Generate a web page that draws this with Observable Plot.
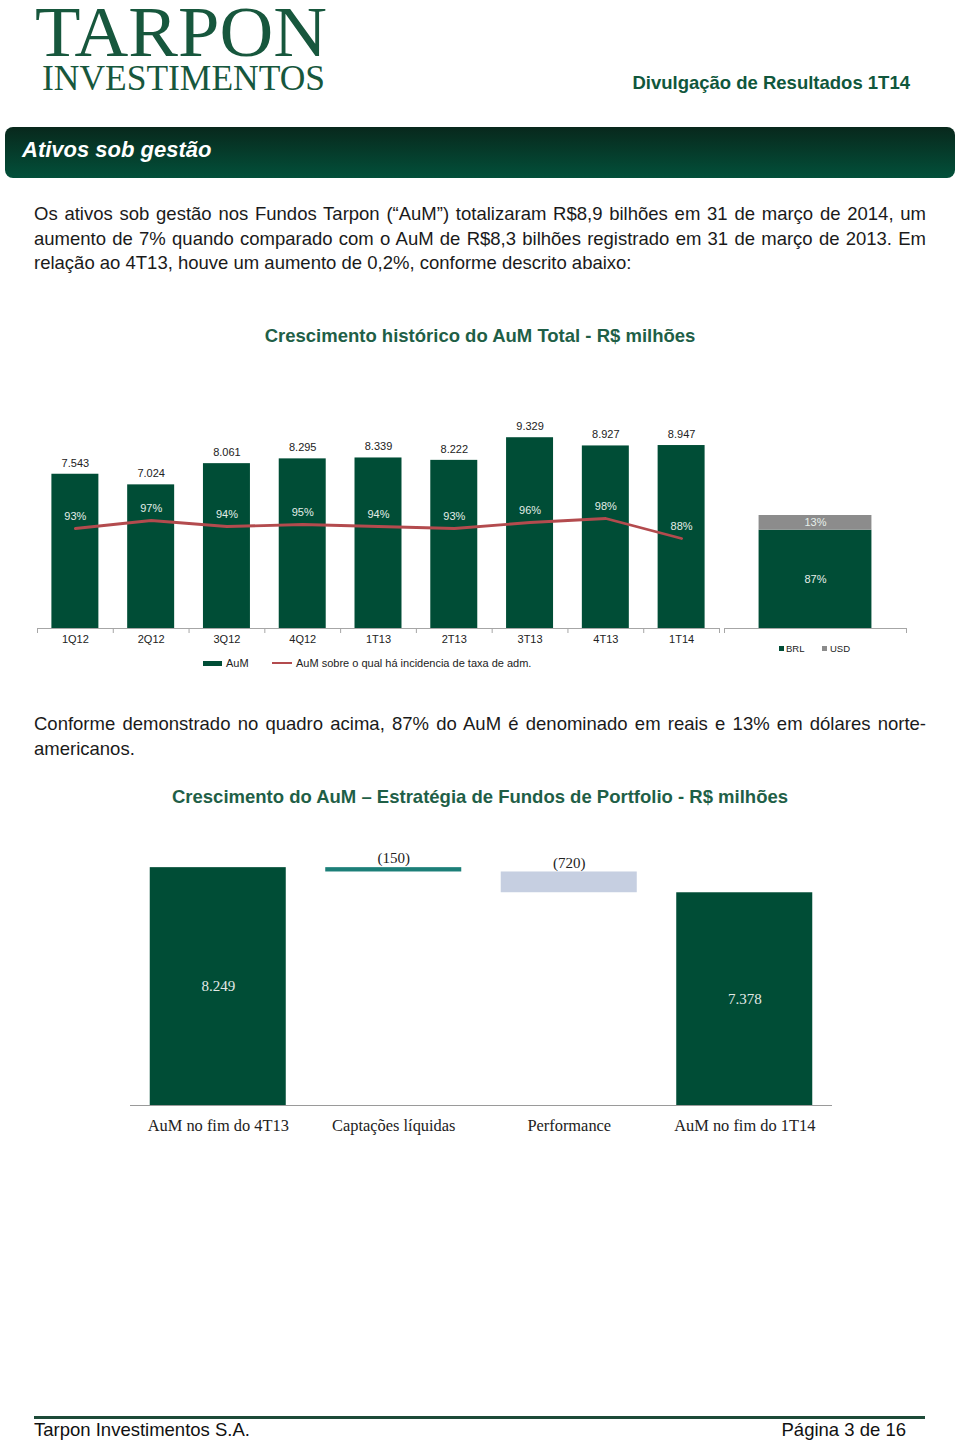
<!DOCTYPE html>
<html>
<head>
<meta charset="utf-8">
<script src="https://cdn.jsdelivr.net/npm/d3@7"></script>
<script src="https://cdn.jsdelivr.net/npm/@observablehq/plot@0.6"></script>
<style>
  html, body { margin: 0; padding: 0; background: #fff; }
  body { width: 960px; height: 1443px; position: relative; overflow: hidden;
         font-family: "Liberation Sans", Arial, sans-serif; color: #1a1a1a; }
  .abs { position: absolute; }
  .para { font-size: 18.5px; line-height: 24.5px; width: 892px; left: 34px; }
  .para div { text-align: justify; text-align-last: justify; white-space: nowrap; }
  .para div.last { text-align-last: left; }
  .ctitle { width: 960px; left: 0; text-align: center; font-weight: bold; font-size: 18.5px; color: #1f5f47; line-height: 22px; }
  .legend { font-size: 11px; color: #222; line-height: 14px; white-space: nowrap; }
  svg.plot { overflow: visible; }
</style>
</head>
<body>

<!-- Logo -->
<svg class="abs" style="left:0;top:0" width="340" height="100">
  <text x="35" y="56" font-family="Liberation Serif, serif" font-size="72" fill="#17573d" textLength="292" lengthAdjust="spacingAndGlyphs">TARPON</text>
  <text x="42" y="90" font-family="Liberation Serif, serif" font-size="35" fill="#17573d" textLength="283" lengthAdjust="spacingAndGlyphs">INVESTIMENTOS</text>
</svg>

<div class="abs" style="right:50px;top:72px;font-size:18.5px;font-weight:bold;color:#10573c;line-height:22px;">Divulgação de Resultados 1T14</div>

<!-- Banner -->
<div class="abs" style="left:5px;top:127px;width:950px;height:51px;border-radius:8px;background:linear-gradient(#08281c,#02503a);"></div>
<div class="abs" style="left:22px;top:137px;font-size:22px;font-weight:bold;font-style:italic;color:#fff;line-height:26px;">Ativos sob gestão</div>

<!-- Paragraph 1 -->
<div class="abs para" style="top:202px;">
  <div>Os ativos sob gestão nos Fundos Tarpon (“AuM”) totalizaram R$8,9 bilhões em 31 de março de 2014, um</div>
  <div>aumento de 7% quando comparado com o AuM de R$8,3 bilhões registrado em 31 de março de 2013. Em</div>
  <div class="last">relação ao 4T13, houve um aumento de 0,2%, conforme descrito abaixo:</div>
</div>

<div class="abs ctitle" style="top:325px;">Crescimento histórico do AuM Total - R$ milhões</div>

<div id="c1" class="abs" style="left:0;top:400px;"></div>
<div id="c1line" class="abs" style="left:0;top:400px;"></div>
<div id="c1b" class="abs" style="left:720px;top:400px;"></div>

<!-- Legend chart 1 -->
<div class="abs" style="left:203px;top:661px;width:19px;height:5px;background:#004d36;"></div>
<div class="abs legend" style="left:226px;top:656px;">AuM</div>
<div class="abs" style="left:272px;top:662px;width:20px;height:2px;background:#b34b4e;"></div>
<div class="abs legend" style="left:296px;top:656px;">AuM sobre o qual há incidencia de taxa de adm.</div>

<!-- Legend chart 1b -->
<div class="abs" style="left:779px;top:646px;width:5px;height:5px;background:#004d36;"></div>
<div class="abs legend" style="left:786px;top:642px;font-size:9.5px;">BRL</div>
<div class="abs" style="left:822px;top:646px;width:5px;height:5px;background:#8c8c8c;"></div>
<div class="abs legend" style="left:830px;top:642px;font-size:9.5px;">USD</div>

<!-- Paragraph 2 -->
<div class="abs para" style="top:712px;">
  <div>Conforme demonstrado no quadro acima, 87% do AuM é denominado em reais e 13% em dólares norte-</div>
  <div class="last">americanos.</div>
</div>

<div class="abs ctitle" style="top:786px;">Crescimento do AuM – Estratégia de Fundos de Portfolio - R$ milhões</div>

<div id="c2" class="abs" style="left:0;top:830px;"></div>

<!-- Footer -->
<div class="abs" style="left:34px;top:1416px;width:891px;height:3px;background:#1d4a38;"></div>
<div class="abs" style="left:34px;top:1419px;font-size:18.5px;line-height:22px;color:#111;">Tarpon Investimentos S.A.</div>
<div class="abs" style="right:54px;top:1419px;font-size:18.5px;line-height:22px;color:#111;">Página 3 de 16</div>

<script>
// ---------------- Data ----------------
const quarters = ["1Q12","2Q12","3Q12","4Q12","1T13","2T13","3T13","4T13","1T14"];
const aum = [7543, 7024, 8061, 8295, 8339, 8222, 9329, 8927, 8947];
const feeSharePct = [93, 97, 94, 95, 94, 93, 96, 98, 88];

const currencyPeriod = "1T14";
const currencies = ["BRL", "USD"];
const currencySharePct = [87, 13];

const bridgeSteps = ["AuM no fim do 4T13", "Captações líquidas", "Performance", "AuM no fim do 1T14"];
const bridgeValues = [8249, -150, -720, 7378];
const bridgeKinds = ["total", "delta", "delta", "total"];

// ---------------- Helpers ----------------
const ptBR = d3.formatLocale({decimal: ",", thousands: ".", grouping: [3], currency: ["R$", ""]});
const fmtThousands = ptBR.format(",d");
const sans = '"Liberation Sans", Arial, sans-serif';
const serif = '"Liberation Serif", "Times New Roman", serif';
const GREEN = "#004d36";

// ---------------- Chart 1: AuM bars ----------------
const t1 = quarters.map((q, i) => ({q, aum: aum[i], pct: feeSharePct[i]}));
const W1 = 720, ML1 = 37, MR1 = 1;
const step1 = (W1 - ML1 - MR1) / quarters.length;
const xBand1 = {type: "band", domain: quarters, paddingInner: 0.38, paddingOuter: 0.19, round: false};

const c1 = Plot.plot({
  width: W1, height: 290,
  marginLeft: ML1, marginRight: MR1, marginTop: 0, marginBottom: 62,
  x: {...xBand1, label: null},
  y: {domain: [0, 10000], range: [228, 23.5], axis: null},
  style: {fontFamily: sans, fontSize: "11px", color: "#222", background: "transparent"},
  marks: [
    Plot.barY(t1, {x: "q", y: "aum", fill: GREEN}),
    Plot.text(t1, {x: "q", y: "aum", text: d => fmtThousands(d.aum), dy: -11, fill: "#222", fontSize: 11}),
    Plot.ruleY([0], {stroke: "#a6a6a6"}),
    Plot.ruleX(quarters, {x: d => d, y1: 0, y2: 0, insetBottom: -5, dx: -step1 / 2, stroke: "#a6a6a6"}),
    Plot.ruleX(quarters.slice(-1), {x: d => d, y1: 0, y2: 0, insetBottom: -5, dx: step1 / 2, stroke: "#a6a6a6"}),
    Plot.axisX({tickSize: 0, tickPadding: 7, fontSize: 11, label: null})
  ]
});
document.getElementById("c1").append(c1);

// Overlay: share of AuM with management fee (secondary scale)
const c1line = Plot.plot({
  width: W1, height: 290,
  marginLeft: ML1, marginRight: MR1, marginTop: 0, marginBottom: 62,
  x: {...xBand1, axis: null},
  y: {domain: [0, 100], range: [314, 114], axis: null},
  style: {fontFamily: sans, fontSize: "11px", background: "transparent"},
  marks: [
    Plot.line(t1, {x: "q", y: "pct", stroke: "#b34b4e", strokeWidth: 2.8}),
    Plot.text(t1, {x: "q", y: "pct", text: d => d.pct + "%", dy: -12, fill: "#e3eee8", fontSize: 11})
  ]
});
document.getElementById("c1line").append(c1line);

// ---------------- Chart 1b: currency split ----------------
const t2 = currencies.map((c, i) => ({period: currencyPeriod, cur: c, share: currencySharePct[i]}));
const W2 = 200, ML2 = 4, MR2 = 14;
const c1b = Plot.plot({
  width: W2, height: 290,
  marginLeft: ML2, marginRight: MR2, marginTop: 0, marginBottom: 62,
  x: {type: "band", domain: [currencyPeriod], paddingInner: 0.38, paddingOuter: 0.19, round: false, axis: null},
  y: {domain: [0, 100], range: [228, 115], axis: null},
  color: {domain: currencies, range: [GREEN, "#8c8c8c"]},
  style: {fontFamily: sans, fontSize: "11px", background: "transparent"},
  marks: [
    Plot.barY(t2, {x: "period", y: "share", fill: "cur"}),
    Plot.text(t2, Plot.stackY({x: "period", y: "share", text: d => d.share + "%", fill: "#e6efea", fontSize: 11})),
    Plot.ruleY([0], {stroke: "#a6a6a6"}),
    Plot.ruleX([currencyPeriod], {x: d => d, y1: 0, y2: 0, insetBottom: -5, dx: -(W2 - ML2 - MR2) / 2, stroke: "#a6a6a6"}),
    Plot.ruleX([currencyPeriod], {x: d => d, y1: 0, y2: 0, insetBottom: -5, dx: (W2 - ML2 - MR2) / 2, stroke: "#a6a6a6"})
  ]
});
document.getElementById("c1b").append(c1b);

// ---------------- Chart 2: waterfall ----------------
let running = 0;
const t3 = bridgeSteps.map((s, i) => {
  const v = bridgeValues[i];
  let y1, y2;
  if (bridgeKinds[i] === "total") { y1 = 0; y2 = v; running = v; }
  else { y1 = running; y2 = running + v; running = y2; }
  return {step: s, v, y1, y2, kind: bridgeKinds[i]};
});

const c2 = Plot.plot({
  width: 960, height: 320,
  marginLeft: 130, marginRight: 128, marginTop: 0, marginBottom: 45,
  x: {type: "band", domain: bridgeSteps, paddingInner: 0.225, paddingOuter: 0.1125, round: false, label: null},
  y: {domain: [0, 9000], range: [275, 15.5], axis: null},
  color: {domain: bridgeSteps, range: [GREEN, "#1c7f78", "#c6cfe1", GREEN]},
  style: {fontFamily: serif, fontSize: "15px", color: "#222", background: "transparent"},
  marks: [
    Plot.barY(t3, {x: "step", y1: "y1", y2: "y2", fill: "step"}),
    Plot.ruleY([0], {stroke: "#9a9a9a"}),
    Plot.text(t3.filter(d => d.kind === "total"), {x: "step", y: d => (d.y1 + d.y2) / 2, text: d => fmtThousands(d.v), fill: "#e4e9e6", fontSize: 15, fontFamily: serif}),
    Plot.text(t3.filter(d => d.kind === "delta"), {x: "step", y: d => Math.max(d.y1, d.y2), text: d => "(" + fmtThousands(-d.v) + ")", dy: -9, fill: "#222", fontSize: 15, fontFamily: serif}),
    Plot.axisX({tickSize: 0, tickPadding: 14, fontSize: 16.4, fontFamily: serif, label: null})
  ]
});
document.getElementById("c2").append(c2);
</script>
</body>
</html>
